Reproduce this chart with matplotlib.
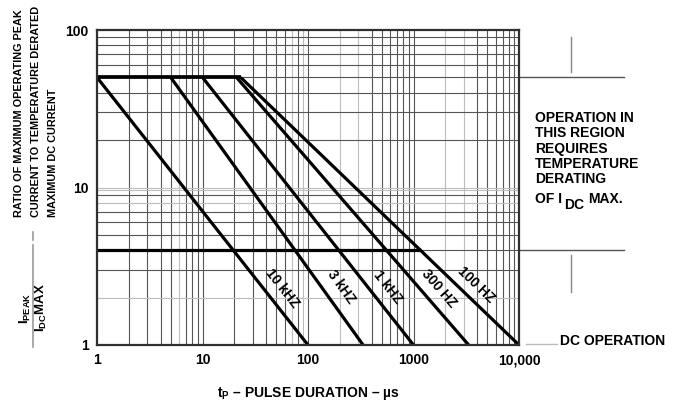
import numpy as np
import matplotlib
matplotlib.use('Agg')
import matplotlib.pyplot as plt
from matplotlib.lines import Line2D

plt.rcParams['font.family'] = ['Liberation Sans', 'DejaVu Sans']
plt.rcParams['font.weight'] = 'bold'
plt.rcParams['mathtext.fontset'] = 'custom'
plt.rcParams['mathtext.rm'] = 'Liberation Sans:bold'
plt.rcParams['mathtext.it'] = 'Liberation Sans:bold'
plt.rcParams['mathtext.bf'] = 'Liberation Sans:bold'

# ---------------- data ----------------
series_labels = ['10 kHZ', '3 kHZ', '1 kHZ', '300 HZ', '100 HZ']
start_tp = [1, 5, 10, 21, 23]            # µs where curve leaves the peak ceiling
end_tp = [100, 333, 1000, 3333, 10000]   # µs where ratio falls to 1
peak_ratio = 50
end_ratio = 1
dc_limit_ratio = 4
dc_limit_end_tp = 1180
label_ratio = [2.30, 2.33, 2.33, 2.30, 2.40]
xticks = [1, 10, 100, 1000, 10000]
xticklabels = ['1', '10', '100', '1000', '10,000']
yticks = [1, 10, 100]
yticklabels = ['1', '10', '100']

W, H = 674, 407
fig = plt.figure(figsize=(W / 100, H / 100), dpi=100)
ax = fig.add_axes([97 / W, 1 - 345 / H, 422 / W, 315 / H])
ax.set_xscale('log')
ax.set_yscale('log')
ax.set_xlim(1, 10000)
ax.set_ylim(1, 100)

# grid (log paper)
dark = '#555555'
light = '#bdbdbd'
light_x = {6, 70, 90, 200, 300, 2000, 3000}
light_y = {10, 8, 2}
for dec in [1, 10, 100, 1000]:
    for m in range(1, 10):
        v = dec * m
        if v == 1:
            continue
        ax.axvline(v, color=light if v in light_x else dark, lw=0.8, zorder=1)
for dec in [1, 10]:
    for m in range(1, 10):
        v = dec * m
        if v == 1:
            continue
        ax.axhline(v, color=light if v in light_y else dark, lw=0.8, zorder=1)
ax.axhline(9.7, color=light, lw=0.8, zorder=1)

for s in ax.spines.values():
    s.set_color('#303030')
    s.set_linewidth(1.6)
    s.set_zorder(5)

ax.set_xticks(xticks)
ax.set_xticklabels(xticklabels)
ax.set_yticks(yticks)
ax.set_yticklabels(yticklabels)
ax.minorticks_off()
ax.tick_params(length=0, labelsize=10, pad=6)
for lab in ax.get_xticklabels() + ax.get_yticklabels():
    lab.set_fontweight('bold')

lw = 2.3
# ceiling line and DC limit line
ax.plot([1, max(start_tp)], [peak_ratio, peak_ratio], color='black', lw=lw + 0.4,
        solid_capstyle='butt', zorder=4)
ax.plot([1, dc_limit_end_tp], [dc_limit_ratio, dc_limit_ratio], color='black', lw=lw,
        solid_capstyle='butt', zorder=4)

for lab, x0, x1, yl in zip(series_labels, start_tp, end_tp, label_ratio):
    ax.plot([x0, x1], [peak_ratio, end_ratio], color='black', lw=lw,
            solid_capstyle='butt', zorder=4, clip_on=False)
    # position on line where ratio == yl (log-log interpolation)
    lx0, lx1 = np.log10(x0), np.log10(x1)
    ly0, ly1 = np.log10(peak_ratio), np.log10(end_ratio)
    t = (np.log10(yl) - ly0) / (ly1 - ly0)
    xl = 10 ** (lx0 + t * (lx1 - lx0))
    p0 = ax.transData.transform((x0, peak_ratio))
    p1 = ax.transData.transform((x1, end_ratio))
    ang = np.degrees(np.arctan2(p1[1] - p0[1], p1[0] - p0[0]))
    ax.annotate(lab, xy=(xl, yl), xytext=(14, 0), textcoords='offset points',
                ha='center', va='center', rotation=ang, rotation_mode='anchor',
                fontsize=10, fontweight='bold', zorder=6)

# ---- right side annotations ----
def ax_line(x0, x1, y0, y1, color='#555555', lw=1.0):
    ax.add_line(Line2D([x0, x1], [y0, y1], transform=ax.transAxes, color=color,
                       lw=lw, clip_on=False))

def yfrac(v):
    return np.log10(v) / 2.0

ax_line(1.0, 1.249, yfrac(peak_ratio), yfrac(peak_ratio))
ax_line(1.123, 1.123, 0.978, 0.867, color='#888888')
ax_line(1.0, 1.249, yfrac(dc_limit_ratio), yfrac(dc_limit_ratio))
ax_line(1.123, 1.123, 0.286, 0.168, color='#888888')
ax_line(1.017, 1.090, 0.003, 0.003, color='#bbbbbb')

ax.text(1.097, 0.012, 'DC OPERATION', transform=ax.transAxes, ha='left', va='center',
        fontsize=10, fontweight='bold')

blk = ax.text(1.038, (345 - 111) / 315,
              'OPERATION IN\nTHIS REGION\nREQUIRES\nTEMPERATURE\nDERATING',
              transform=ax.transAxes, ha='left', va='top', fontsize=10,
              fontweight='bold', linespacing=1.12)
t1 = ax.text(1.038, (345 - 203) / 315, 'OF I', transform=ax.transAxes, ha='left',
             va='baseline', fontsize=10, fontweight='bold')
t2 = ax.annotate('DC', xy=(1, 0), xycoords=t1, xytext=(1.5, -4),
                 textcoords='offset points', ha='left', va='bottom', fontsize=10,
                 fontweight='bold')
ax.annotate('MAX.', xy=(1, 0), xycoords=t2, xytext=(3, 4),
            textcoords='offset points', ha='left', va='bottom', fontsize=10,
            fontweight='bold')

# ---- x label ----
fig.text(308 / W, 1 - 393 / H, r'$\mathregular{t_P}$ – PULSE DURATION – µs',
         ha='center', va='center', fontsize=10, fontweight='bold')

# ---- y label ----
ylines = ['RATIO OF MAXIMUM OPERATING PEAK', 'CURRENT TO TEMPERATURE DERATED',
          'MAXIMUM DC CURRENT']
for i, s in enumerate(ylines):
    fig.text((19 + 17 * i) / W, 1 - 217 / H, s, rotation=90, rotation_mode='anchor',
             ha='left', va='center', fontsize=7.8, fontweight='bold')

fig.text(25 / W, 1 - 308 / H, r'$\mathregular{I_{PEAK}}$', rotation=90,
         rotation_mode='anchor', ha='center', va='center', fontsize=9.5, fontweight='bold')
fig.text(41 / W, 1 - 308 / H, r'$\mathregular{I_{DC}MAX}$', rotation=90,
         rotation_mode='anchor', ha='center', va='center', fontsize=9.5, fontweight='bold')
fig.add_artist(Line2D([32.5 / W, 32.5 / W], [1 - 245 / H, 1 - 347 / H],
                      transform=fig.transFigure, color='#999999', lw=1.2))
fig.add_artist(Line2D([33 / W, 33 / W], [1 - 232 / H, 1 - 240 / H],
                      transform=fig.transFigure, color='#999999', lw=1.2))

fig.savefig('out.png', dpi=100)
